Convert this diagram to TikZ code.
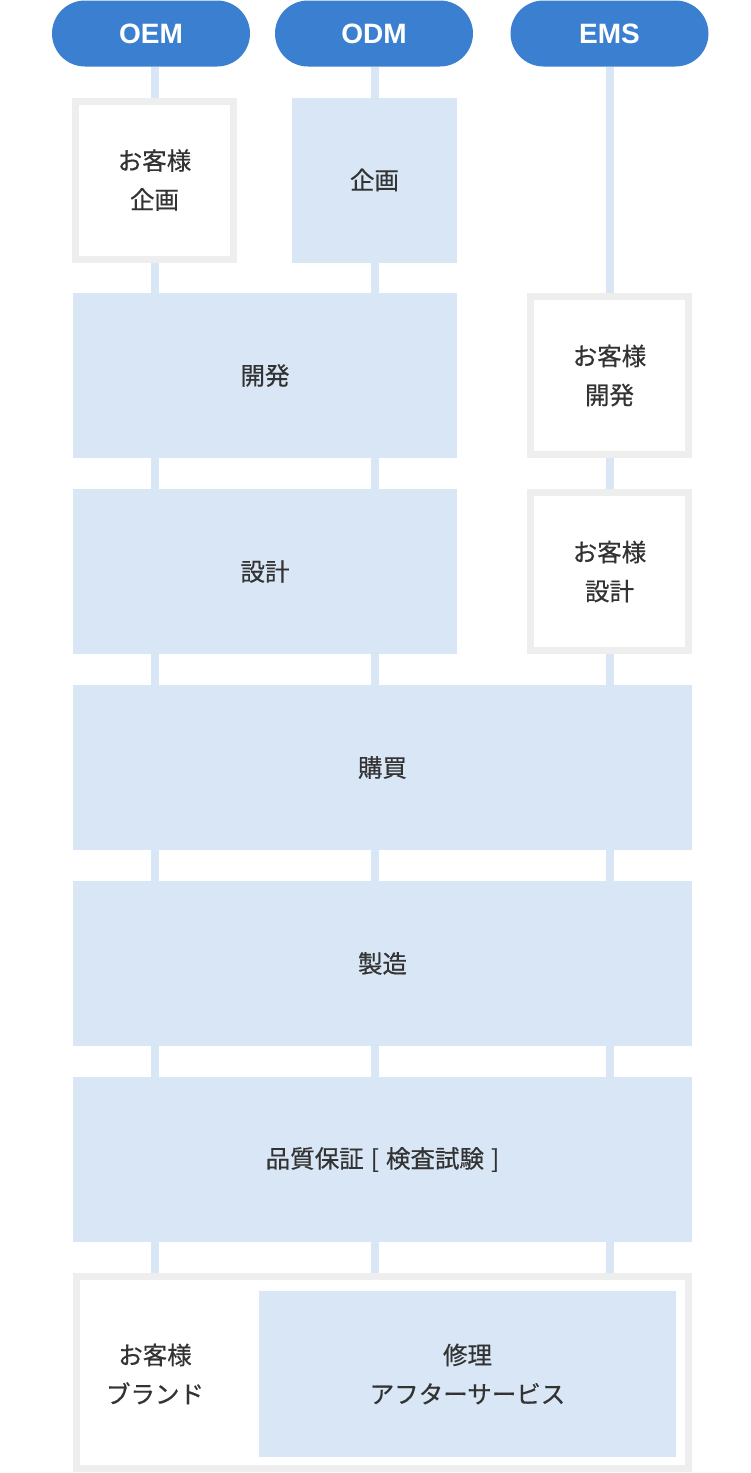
\documentclass[tikz,border=0pt]{standalone}
\usepackage{fontspec}
\setmainfont{Noto Sans CJK JP}[FakeBold=0.5]
\newfontfamily\pillfont{Liberation Sans}
\usetikzlibrary{backgrounds}
\definecolor{pillblue}{HTML}{3A7FD0}
\definecolor{stepfill}{HTML}{D9E6F5}
\definecolor{frame}{HTML}{EEEEEE}
\definecolor{ink}{HTML}{333333}
\tikzset{
  pill/.style={fill=pillblue, rounded corners=33pt, minimum width=198pt,
    minimum height=66pt, inner sep=0pt, text=white,
    font=\pillfont\bfseries\fontsize{28}{32}\selectfont},
  stepbox/.style={fill=stepfill, inner sep=0pt, text=ink, align=center,
    font=\fontsize{24.5}{39}\selectfont},
  ownbox/.style={draw=frame, line width=7pt, fill=white, inner sep=0pt,
    text=ink, align=center, font=\fontsize{24.5}{39}\selectfont},
  rail/.style={draw=stepfill, line width=8pt}
}
\begin{document}
\begin{tikzpicture}[x=1pt, y=-1pt]
    \useasboundingbox (0,0) rectangle (750,1473);

    % Define nodes
    \node[pill] (oem) at (151,33.5)   {OEM};
    \node[pill] (odm) at (374,33.5)   {ODM};
    \node[pill] (ems) at (609.5,33.5) {EMS};

    % planning row
    \node[ownbox, minimum width=158pt, minimum height=158pt]  (kikakuoem) at (154.5,180) {お客様\\企画};
    \node[stepbox, minimum width=165pt, minimum height=165pt] (kikakuodm) at (374.5,180) {企画};

    % development / design rows
    \node[stepbox, minimum width=384pt, minimum height=165pt] (kaihatsu) at (265,375.5) {開発};
    \node[ownbox, minimum width=158pt, minimum height=158pt]  (kaihatsuems) at (609.5,375.5) {お客様\\開発};
    \node[stepbox, minimum width=384pt, minimum height=165pt] (sekkei) at (265,571.5) {設計};
    \node[ownbox, minimum width=158pt, minimum height=158pt]  (sekkeiems) at (609.5,571.5) {お客様\\設計};

    % common rows
    \node[stepbox, minimum width=619pt, minimum height=165pt] (kobai) at (382.5,767.5) {購買};
    \node[stepbox, minimum width=619pt, minimum height=165pt] (seizo) at (382.5,963.5) {製造};
    \node[stepbox, minimum width=619pt, minimum height=165pt] (hinshitsu) at (382.5,1159.5)
      {品質保証\hspace{7pt}[\hspace{7pt}検査試験\hspace{7pt}]};

    % brand row
    \node[ownbox, minimum width=612pt, minimum height=192pt] (brand) at (382.5,1372.5) {};
    \node[stepbox, minimum width=417pt, minimum height=166pt] (shuri) at (467.5,1374) {修理\\アフターサービス};
    \node[text=ink, align=center, font=\fontsize{24.5}{39}\selectfont] (brandtext) at (155,1374) {お客様\\ブランド};

    % Connect the columns
    \begin{scope}[on background layer]
      \draw[rail] ([xshift=4pt]oem.south) -- ([xshift=4pt]oem.south |- brand.north);
      \draw[rail] ([xshift=1pt]odm.south) -- ([xshift=1pt]odm.south |- brand.north);
      \draw[rail] ([xshift=0.5pt]ems.south) -- ([xshift=0.5pt]ems.south |- brand.north);
    \end{scope}

\end{tikzpicture}
\end{document}
